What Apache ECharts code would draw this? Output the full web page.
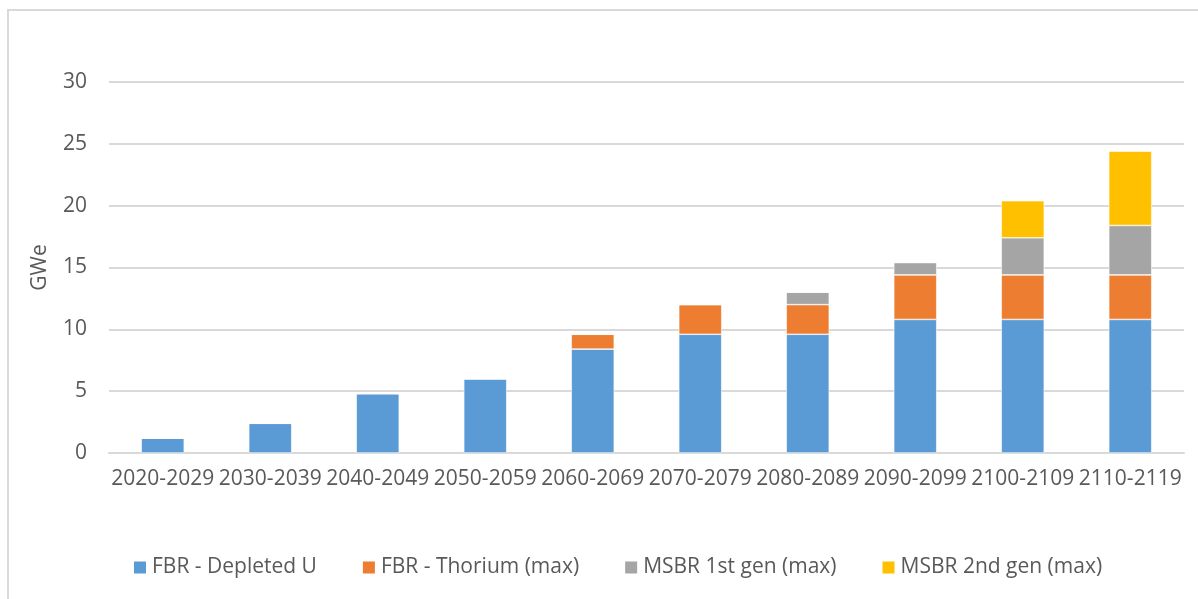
<!DOCTYPE html>
<html>
<head>
<meta charset="utf-8">
<script src="https://cdn.jsdelivr.net/npm/echarts@6/dist/echarts.min.js"></script>
<style>
  html, body { margin: 0; padding: 0; background: #fff; overflow: hidden; }
  #frame { position: absolute; left: 7px; top: 9px; width: 1400px; height: 800px;
           border: 2px solid #d9d9d9; box-sizing: border-box; }
  #chart { position: absolute; left: 0; top: 0; width: 1198px; height: 599px; }
</style>
</head>
<body>
<div id="frame"></div>
<div id="chart"></div>
<script>
// Decades on the category axis
const decades = ['2020-2029', '2030-2039', '2040-2049', '2050-2059', '2060-2069',
                 '2070-2079', '2080-2089', '2090-2099', '2100-2109', '2110-2119'];

// Installed capacity per reactor type (GWe), stacked
const fbrDepletedU = [1.2, 2.4, 4.8, 6.0, 8.4, 9.6, 9.6, 10.8, 10.8, 10.8];
const fbrThorium   = [0, 0, 0, 0, 1.2, 2.4, 2.4, 3.6, 3.6, 3.6];
const msbr1stGen   = [0, 0, 0, 0, 0, 0, 1.0, 1.0, 3.0, 4.0];
const msbr2ndGen   = [0, 0, 0, 0, 0, 0, 0, 0, 3.0, 6.0];

const seriesNames = ['FBR - Depleted U', 'FBR - Thorium (max)', 'MSBR 1st gen (max)', 'MSBR 2nd gen (max)'];
const seriesData = [fbrDepletedU, fbrThorium, msbr1stGen, msbr2ndGen];
const colors = ['#5B9BD5', '#ED7D31', '#A5A5A5', '#FFC000'];

const FONT = '"Open Sans", "Liberation Sans", sans-serif';
const TEXT = '#595959';

const chart = echarts.init(document.getElementById('chart'), null, { renderer: 'canvas' });

chart.setOption({
  backgroundColor: 'transparent',
  animation: false,
  color: colors,
  textStyle: { fontFamily: FONT, color: TEXT },
  grid: { left: 109, right: 14, top: 82, bottom: 146, containLabel: false },
  legend: {
    bottom: 16,
    left: 127,
    itemWidth: 14,
    itemHeight: 14,
    itemGap: 44,
    icon: 'rect',
    textStyle: { fontFamily: FONT, fontSize: 21, color: TEXT },
    data: seriesNames
  },
  xAxis: {
    type: 'category',
    data: decades,
    axisLine: { show: true, lineStyle: { color: '#d9d9d9', width: 2 } },
    axisTick: { show: false },
    axisLabel: { fontFamily: FONT, fontSize: 21, color: TEXT, margin: 16, interval: 0 }
  },
  yAxis: {
    type: 'value',
    min: 0,
    max: 30,
    interval: 5,
    name: 'GWe',
    nameLocation: 'middle',
    nameRotate: 90,
    nameGap: 58,
    nameTextStyle: { fontFamily: FONT, fontSize: 21, color: TEXT },
    axisLine: { show: false },
    axisTick: { show: false },
    axisLabel: { fontFamily: FONT, fontSize: 21, color: TEXT, margin: 22 },
    splitLine: { lineStyle: { color: '#d9d9d9', width: 2 } }
  },
  series: seriesNames.map((name, i) => ({
    name: name,
    type: 'bar',
    stack: 'capacity',
    barWidth: '40%',
    data: seriesData[i],
    itemStyle: { color: colors[i], borderColor: '#ffffff', borderWidth: 0.6 }
  }))
});
</script>
</body>
</html>
